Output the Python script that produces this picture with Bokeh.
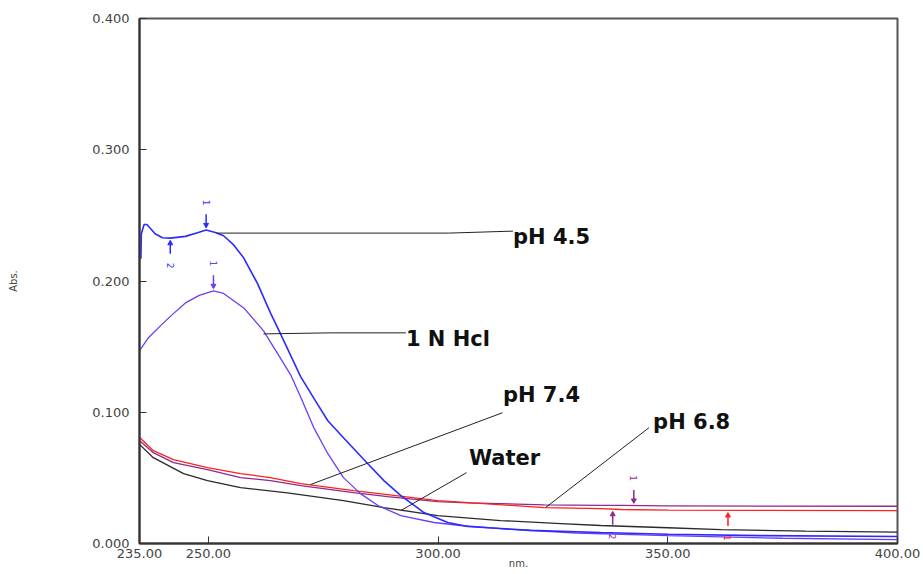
from bokeh.plotting import figure
from bokeh.models import FixedTicker, NumeralTickFormatter, Range1d
from bokeh.embed import file_html
from bokeh.resources import INLINE
from bokeh.core.properties import value
import math

# ---- UV spectra (wavelength in nm, absorbance) ----
ph45_nm = [235.3, 235.4, 236.0, 236.6, 238.4, 240.0, 241.7, 245.0, 247.8, 249.5,
           251.5, 253.3, 255.5, 257.7, 260.7, 263.5, 265.7, 270.1, 273.3, 276.0,
           279.4, 284.7, 288.2, 291.9, 296.9, 302.1, 306.5, 313.6, 320.0, 335.4,
           350.0, 370.0, 400.0]
ph45_abs = [0.217, 0.236, 0.243, 0.243, 0.236, 0.233, 0.2327, 0.234, 0.237, 0.2388,
            0.237, 0.2345, 0.2275, 0.2175, 0.198, 0.1757, 0.1597, 0.127, 0.1087, 0.0935,
            0.0806, 0.0608, 0.0479, 0.0365, 0.0236, 0.016, 0.0129, 0.0114, 0.010, 0.0084,
            0.007, 0.006, 0.0053]

hcl_nm = [235.0, 237.0, 239.6, 242.0, 245.0, 248.0, 251.1, 253.3, 257.7, 262.0,
          265.1, 267.9, 270.1, 272.9, 276.0, 279.4, 283.1, 286.9, 291.9, 299.1,
          304.9, 315.0, 330.0, 350.0, 375.0, 400.0]
hcl_abs = [0.147, 0.157, 0.166, 0.174, 0.1833, 0.189, 0.1924, 0.1905, 0.1795, 0.162,
           0.1445, 0.1285, 0.1115, 0.0885, 0.0684, 0.0502, 0.038, 0.0289, 0.0213, 0.016,
           0.0137, 0.011, 0.008, 0.006, 0.004, 0.003]

ph68_nm = [235.0, 238.0, 242.4, 249.8, 257.0, 263.5, 270.1, 281.6, 289.0, 299.9,
           306.5, 323.0, 335.4, 339.8, 350.0, 370.0, 400.0]
ph68_abs = [0.081, 0.0707, 0.0639, 0.0578, 0.0532, 0.0502, 0.0456, 0.0403, 0.0373, 0.0327,
            0.0312, 0.0274, 0.0266, 0.0259, 0.0255, 0.0253, 0.0251]

ph74_nm = [235.0, 238.0, 242.4, 249.8, 257.0, 263.5, 270.1, 281.6, 289.0, 299.9,
           306.5, 323.0, 335.4, 339.8, 350.0, 370.0, 400.0]
ph74_abs = [0.0785, 0.0692, 0.0616, 0.0563, 0.0502, 0.0479, 0.0441, 0.0388, 0.0357, 0.0319,
            0.031, 0.0295, 0.029, 0.029, 0.0287, 0.0285, 0.0284]

water_nm = [235.0, 238.0, 244.6, 249.8, 257.0, 267.2, 279.4, 288.2, 299.9, 313.6,
            326.7, 335.4, 350.0, 361.6, 380.0, 400.0]
water_abs = [0.0755, 0.0654, 0.0532, 0.0479, 0.0426, 0.0385, 0.0327, 0.0274, 0.0213, 0.0175,
             0.0152, 0.0137, 0.012, 0.0106, 0.0095, 0.0087]

x_ticks = [235, 250, 300, 350, 400]
y_ticks = [0.0, 0.1, 0.2, 0.3, 0.4]

C_PH45 = "#2b2bff"
C_HCL = "#6f3cf5"
C_PH68 = "#ff2020"
C_PH74 = "#8a2c8a"
C_WATER = "#2a2a2a"

p = figure(width=923, height=574, output_backend="svg", toolbar_location=None,
           x_range=Range1d(235, 400), y_range=Range1d(0, 0.4),
           min_border_left=139, min_border_right=26, min_border_top=18,
           min_border_bottom=31)
p.background_fill_color = "white"
p.border_fill_color = "white"
p.outline_line_color = "#555555"
p.outline_line_width = 2
p.xgrid.visible = False
p.ygrid.visible = False

for ax in (p.xaxis[0], p.yaxis[0]):
    ax.axis_line_color = "#333333"
    ax.axis_line_width = 2
    ax.major_tick_line_color = "#333333"
    ax.major_tick_in = 7
    ax.major_tick_out = 0
    ax.minor_tick_line_color = None
    ax.major_label_text_font = "DejaVu Sans"
    ax.major_label_text_font_size = "13px"
    ax.major_label_text_color = "#444444"
    ax.axis_label_text_font = "DejaVu Sans"
    ax.axis_label_text_font_size = "10px"
    ax.axis_label_text_font_style = "normal"
    ax.axis_label_text_color = "#444444"

p.xaxis.ticker = FixedTicker(ticks=x_ticks)
p.xaxis.formatter = NumeralTickFormatter(format="0.00")
p.xaxis.major_label_standoff = 5
p.xaxis.axis_label = "nm."
p.xaxis.axis_label_standoff = -3

p.yaxis.ticker = FixedTicker(ticks=y_ticks)
p.yaxis.formatter = NumeralTickFormatter(format="0.000")
p.yaxis.major_label_standoff = 10
p.yaxis.axis_label = "Abs."
p.yaxis.axis_label_standoff = 70

# spectra
p.line(water_nm, water_abs, line_color=C_WATER, line_width=1.3)
p.line(ph74_nm, ph74_abs, line_color=C_PH74, line_width=1.3)
p.line(ph68_nm, ph68_abs, line_color=C_PH68, line_width=1.3)
p.line(hcl_nm, hcl_abs, line_color=C_HCL, line_width=1.3)
p.line(ph45_nm, ph45_abs, line_color=C_PH45, line_width=1.6)

# peak / valley pick markers: (wavelength, absorbance, number, above?, colour)
picks = [
    (ph45_nm[9], ph45_abs[9], "1", True, C_PH45),
    (ph45_nm[6], ph45_abs[6], "2", False, C_PH45),
    (hcl_nm[6], hcl_abs[6], "1", True, C_HCL),
    (342.6, 0.0288, "1", True, C_PH74),
    (338.0, 0.0262, "2", False, C_PH74),
    (363.1, 0.0253, "1", False, C_PH68),
]
for wx, wy, num, above, col in picks:
    if above:
        y0, y1, ty, ang = wy + 0.012, wy + 0.002, wy + 0.021, -math.pi / 2
        p.triangle([wx], [wy + 0.004], size=5, angle=math.pi, fill_color=col, line_color=col)
    else:
        y0, y1, ty, ang = wy - 0.012, wy - 0.002, wy - 0.021, -math.pi / 2
        p.triangle([wx], [wy - 0.004], size=5, fill_color=col, line_color=col)
    p.segment(x0=[wx], y0=[y0], x1=[wx], y1=[y1], line_color=col, line_width=1.5)
    p.text(x=[wx], y=[ty], text=[num], angle=ang, text_align="center",
           text_baseline="middle", text_font=value("DejaVu Sans"),
           text_font_size="9px", text_color=col)

# leader lines from curves to the solvent labels
leaders = [
    ([251.8, 302.3, 316.3], [0.2365, 0.2365, 0.238]),
    ([262.0, 276.7, 293.0], [0.1597, 0.1605, 0.1605]),
    ([272.2, 314.0], [0.0449, 0.0996]),
    ([291.9, 306.2], [0.0251, 0.054]),
    ([323.4, 345.9], [0.0274, 0.0882]),
]
for lx, ly in leaders:
    p.line(lx, ly, line_color="#222222", line_width=1)

labels = [
    (316.3, 0.2335, "pH 4.5"),
    (293.0, 0.1555, "1 N Hcl"),
    (314.1, 0.1128, "pH 7.4"),
    (306.7, 0.0652, "Water"),
    (346.8, 0.0925, "pH 6.8"),
]
for tx, ty, txt in labels:
    p.text(x=[tx], y=[ty], text=[txt], text_align="left", text_baseline="middle",
           text_font=value("DejaVu Sans"), text_font_style="bold",
           text_font_size="21px", text_color="#111111")

open("out.html", "w").write(file_html(p, INLINE))
